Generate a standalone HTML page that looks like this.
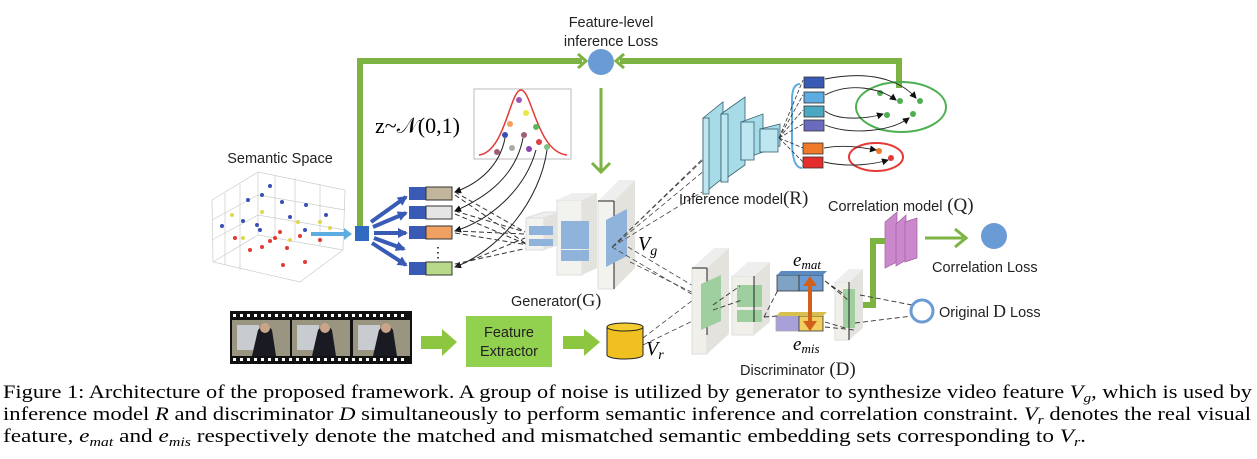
<!DOCTYPE html>
<html><head><meta charset="utf-8"><style>
body{margin:0;background:#fff;width:1257px;height:459px;overflow:hidden}
svg{display:block}
.s{font-family:"Liberation Sans","DejaVu Sans",sans-serif;fill:#222}
.r{font-family:"Liberation Serif",serif;fill:#000}
</style></head><body>
<svg width="1257" height="459" viewBox="0 0 1257 459" xmlns="http://www.w3.org/2000/svg">
<defs>
<marker id="ba" markerWidth="10" markerHeight="10" refX="8" refY="5" orient="auto" markerUnits="userSpaceOnUse"><path d="M0,0 L10,5 L0,10z" fill="#3a5bb5"/></marker>
<marker id="ka" markerWidth="7" markerHeight="7" refX="6" refY="3.5" orient="auto" markerUnits="userSpaceOnUse"><path d="M0,0 L7,3.5 L0,7z" fill="#111"/></marker>
</defs>

<polyline points="360,228 360,61 582,61" fill="none" stroke="#7cb342" stroke-width="6"/>
<path d="M578,54 L586,61 L578,68" fill="none" stroke="#7cb342" stroke-width="3"/>
<polyline points="899,88 899,61 620,61" fill="none" stroke="#7cb342" stroke-width="6"/>
<path d="M624,54 L616,61 L624,68" fill="none" stroke="#7cb342" stroke-width="3"/>
<circle cx="601" cy="62" r="13" fill="#6a9bd4"/>
<text class="s" x="611" y="27" font-size="14.5" text-anchor="middle">Feature-level</text>
<text class="s" x="611" y="46" font-size="14.5" text-anchor="middle">inference Loss</text>
<line x1="601" y1="88" x2="601" y2="170" stroke="#7cb342" stroke-width="3"/>
<path d="M592,163 L601,172 L610,163" fill="none" stroke="#7cb342" stroke-width="3"/>

<text class="r" x="375" y="133" font-size="22">z~𝒩(0,1)</text>
<rect x="474" y="89" width="97" height="70" fill="#fff" stroke="#bbb" stroke-width="1"/>
<path d="M479,155 C505,152 510,90 521,90 C532,90 537,152 567,155" fill="none" stroke="#e53935" stroke-width="1.5"/>
<circle cx="519" cy="100" r="3" fill="#9b59b6"/><circle cx="526" cy="113" r="3" fill="#e8e84a"/>
<circle cx="510" cy="124" r="3" fill="#f0a060"/><circle cx="536" cy="127" r="3" fill="#5cb85c"/>
<circle cx="505" cy="135" r="3" fill="#3a4fb5"/><circle cx="524" cy="135" r="3" fill="#a06070"/>
<circle cx="539" cy="142" r="3" fill="#e04040"/><circle cx="512" cy="148" r="3" fill="#aaa"/>
<circle cx="529" cy="149" r="3" fill="#8e44ad"/><circle cx="547" cy="147" r="3" fill="#7fbf7f"/>
<circle cx="497" cy="152" r="3" fill="#a06070"/>

<text class="s" x="280" y="163" font-size="14.5" text-anchor="middle">Semantic Space</text>
<g stroke="#ccc" stroke-width="0.7" fill="none">
<path d="M212,200 L258,172 L345,190 L343,250 L300,282 L213,262z"/>
<path d="M258,172 L258,235 L343,250 M258,235 L213,262"/>
<path d="M225,193 L225,265 M240,184 L240,270 M275,175 L275,238 M295,178 L295,240 M320,184 L320,245"/>
<path d="M212,220 L258,195 L345,210 M212,240 L258,215 L345,230"/>
</g>
<g fill="#3a4fb5"><circle cx="270" cy="186" r="2"/><circle cx="262" cy="195" r="2"/><circle cx="282" cy="202" r="2"/><circle cx="306" cy="205" r="2"/><circle cx="243" cy="221" r="2"/><circle cx="257" cy="225" r="2"/><circle cx="222" cy="226" r="2"/><circle cx="290" cy="217" r="2"/><circle cx="326" cy="215" r="2"/><circle cx="248" cy="200" r="2"/><circle cx="260" cy="230" r="2"/><circle cx="305" cy="230" r="2"/></g>
<g fill="#e53935"><circle cx="250" cy="250" r="2"/><circle cx="270" cy="241" r="2"/><circle cx="287" cy="248" r="2"/><circle cx="275" cy="238" r="2"/><circle cx="283" cy="265" r="2"/><circle cx="305" cy="262" r="2"/><circle cx="320" cy="240" r="2"/><circle cx="262" cy="247" r="2"/><circle cx="300" cy="236" r="2"/><circle cx="235" cy="238" r="2"/><circle cx="280" cy="232" r="2"/></g>
<g fill="#e0d84a"><circle cx="232" cy="215" r="2"/><circle cx="262" cy="212" r="2"/><circle cx="298" cy="222" r="2"/><circle cx="320" cy="222" r="2"/><circle cx="243" cy="238" r="2"/><circle cx="330" cy="228" r="2"/><circle cx="290" cy="240" r="2"/></g>
<line x1="311" y1="234" x2="346" y2="234" stroke="#5dade2" stroke-width="4"/>
<path d="M344,228 L352,234 L344,240z" fill="#5dade2"/>
<rect x="355" y="226" width="14" height="15" fill="#2f6bc0"/>

<g stroke="#3a5bb5" stroke-width="4" marker-end="url(#ba)">
<line x1="371" y1="222" x2="406" y2="197"/>
<line x1="373" y1="227" x2="406" y2="213"/>
<line x1="374" y1="233" x2="406" y2="233"/>
<line x1="374" y1="238" x2="404" y2="249"/>
<line x1="372" y1="243" x2="406" y2="265"/>
</g>
<g>
<rect x="409" y="187" width="17" height="13" fill="#3a5bb5"/><rect x="426" y="187" width="26" height="13" fill="#c1b59b" stroke="#333" stroke-width="1"/>
<rect x="409" y="206" width="17" height="13" fill="#3a5bb5"/><rect x="426" y="206" width="26" height="13" fill="#e5e5e5" stroke="#333" stroke-width="1"/>
<rect x="409" y="226" width="17" height="13" fill="#3a5bb5"/><rect x="426" y="226" width="26" height="13" fill="#f0a060" stroke="#333" stroke-width="1"/>
<rect x="409" y="262" width="17" height="13" fill="#3a5bb5"/><rect x="426" y="262" width="26" height="13" fill="#b9d98a" stroke="#333" stroke-width="1"/>
<text x="431" y="257" font-size="14" font-family="Liberation Sans,sans-serif">⋮</text>
</g>
<g fill="none" stroke="#222" stroke-width="1" marker-end="url(#ka)">
<path d="M505,138 C500,165 480,183 455,192"/>
<path d="M523,138 C515,180 480,200 455,211"/>
<path d="M536,150 C525,190 490,220 455,231"/>
<path d="M547,150 C540,200 500,250 455,267"/>
</g>
<g fill="none" stroke="#333" stroke-width="1" stroke-dasharray="5,3">
<path d="M455,192 L525,232 M455,211 L525,232 M455,231 L525,234 M455,267 L525,238 M455,195 L528,245 M455,214 L528,245 M455,233 L528,245 M455,264 L528,248"/>
</g>

<g>
<path d="M526,218 L544,212 L562,212 L544,218z" fill="#eee" stroke="#ddd"/><rect x="526" y="218" width="18" height="32" fill="#f2f2ee" stroke="#ddd"/><path d="M544,218 L562,212 L562,244 L544,250z" fill="#e4e2dc"/>
<rect x="529" y="226" width="24" height="9" fill="#8fb3da"/><rect x="529" y="239" width="24" height="7" fill="#8fb3da"/>
<rect x="557" y="200" width="25" height="75" fill="#f2f2ee" stroke="#ddd"/><path d="M582,200 L597,193 L597,268 L582,275z" fill="#e4e2dc"/><path d="M557,200 L572,193 L597,193 L582,200z" fill="#eee"/>
<rect x="561" y="221" width="28" height="28" fill="#8fb3da"/><rect x="561" y="250" width="28" height="11" fill="#8fb3da"/>
<rect x="598" y="201" width="16" height="88" fill="#f2f2ee" stroke="#ddd"/><path d="M614,201 L635,180 L635,268 L614,289z" fill="#e4e2dc"/><path d="M598,201 L619,180 L635,180 L614,201z" fill="#eee"/>
<line x1="598" y1="201" x2="614" y2="201" stroke="#222"/><line x1="614" y1="201" x2="614" y2="289" stroke="#222"/>
<path d="M606,220 L627,209 L627,256 L606,267z" fill="#8fb3da"/>
</g>
<text class="r" x="638" y="250" font-size="20" font-style="italic">V<tspan font-size="14" dy="5">g</tspan></text>
<text class="s" x="511" y="306" font-size="14.5">Generator<tspan font-family="Liberation Serif,serif" font-size="18">(G)</tspan></text>
<g stroke="#444" stroke-width="0.8" stroke-dasharray="5,3" fill="none">
<path d="M612,247 L703,160 M612,247 L705,170 M612,247 L722,140 M612,247 L702,192"/>
<path d="M612,247 L695,296 M630,262 L712,302 M628,247 L700,290"/>
<path d="M643,338 L693,300 M643,345 L705,315"/>
</g>

<g>
<path d="M703,118 L723,102 L723,178 L703,194z" fill="#a8dbe8" stroke="#33606e" stroke-width="0.8"/><rect x="703" y="118" width="6" height="76" fill="#bde6f0" stroke="#33606e" stroke-width="0.8"/>
<path d="M721,114 L745,97 L745,165 L721,182z" fill="#a8dbe8" stroke="#33606e" stroke-width="0.8"/><rect x="721" y="114" width="7" height="68" fill="#bde6f0" stroke="#33606e" stroke-width="0.8"/>
<path d="M741,122 L763,114 L763,152 L741,160z" fill="#a8dbe8" stroke="#33606e" stroke-width="0.8"/><rect x="741" y="122" width="13" height="38" fill="#bde6f0" stroke="#33606e" stroke-width="0.8"/>
<path d="M760,129 L780,124 L780,146 L760,152z" fill="#a8dbe8" stroke="#33606e" stroke-width="0.8"/><rect x="760" y="129" width="18" height="23" fill="#bde6f0" stroke="#33606e" stroke-width="0.8"/>
</g>
<path d="M800,84 Q792,84 792,100 L792,140 Q792,168 802,168" fill="none" stroke="#5dade2" stroke-width="2"/>
<g stroke="#333" stroke-width="0.8" stroke-dasharray="4,2" fill="none">
<path d="M779,138 L803,80 M779,138 L803,95 M779,138 L803,110 M779,138 L803,124 M779,138 L803,148 M779,138 L803,162"/>
</g>
<g stroke="#333" stroke-width="0.8">
<rect x="804" y="77" width="20" height="11" fill="#3a5bb5"/>
<rect x="804" y="92" width="20" height="11" fill="#5dade2"/>
<rect x="804" y="106" width="20" height="11" fill="#4aa8c0"/>
<rect x="804" y="120" width="20" height="11" fill="#6b6bbd"/>
<rect x="803" y="143" width="20" height="11" fill="#ef7a2a"/>
<rect x="803" y="157" width="20" height="11" fill="#e52d2d"/>
</g>
<ellipse cx="901" cy="107" rx="45" ry="25" fill="none" stroke="#4caf50" stroke-width="2"/>
<ellipse cx="876" cy="157" rx="27" ry="14" fill="none" stroke="#e53935" stroke-width="2"/>
<g fill="#4caf50"><circle cx="880" cy="93" r="3"/><circle cx="900" cy="101" r="3"/><circle cx="920" cy="101" r="3"/><circle cx="887" cy="115" r="3"/><circle cx="913" cy="114" r="3"/></g>
<circle cx="879" cy="151" r="3" fill="#ef7a2a"/><circle cx="891" cy="158" r="3" fill="#e53935"/>
<g fill="none" stroke="#222" stroke-width="0.9" marker-end="url(#ka)">
<path d="M825,79 C870,70 900,80 916,98"/>
<path d="M825,95 C850,82 880,88 896,100"/>
<path d="M825,111 C840,122 870,118 883,114"/>
<path d="M825,125 C850,135 890,132 909,118"/>
<path d="M824,148 C845,144 865,148 876,150"/>
<path d="M824,162 C850,168 875,164 888,160"/>
</g>
<text class="s" x="679" y="204" font-size="14.5">Inference model<tspan font-family="Liberation Serif,serif" font-size="19">(R)</tspan></text>
<text class="s" x="828" y="211" font-size="14.5">Correlation model<tspan font-family="Liberation Serif,serif" font-size="19"> (Q)</tspan></text>

<g fill="#cc88cc" stroke="#a060a0" stroke-width="0.7">
<path d="M885,222 L897,212 L897,262 L885,268z"/>
<path d="M896,224 L906,215 L906,260 L896,266z"/>
<path d="M905,222 L917,218 L917,258 L905,262z"/>
</g>
<line x1="925" y1="238" x2="963" y2="238" stroke="#7cb342" stroke-width="3"/>
<path d="M955,229 L966,238 L955,247" fill="none" stroke="#7cb342" stroke-width="3"/>
<circle cx="994" cy="236" r="13" fill="#6a9bd4"/>
<text class="s" x="932" y="272" font-size="14.5">Correlation Loss</text>
<polyline points="855,305 873,305 873,241 885,241" fill="none" stroke="#7cb342" stroke-width="6"/>

<g>
<rect x="692" y="268" width="15" height="86" fill="#f0efea" stroke="#ddd"/><path d="M707,268 L729,248 L729,334 L707,354z" fill="#e4e2dc"/><path d="M692,268 L714,248 L729,248 L707,268z" fill="#eee"/>
<line x1="692" y1="268" x2="707" y2="268" stroke="#222"/><line x1="707" y1="268" x2="707" y2="335" stroke="#222"/>
<path d="M701,284 L721,275 L721,321 L701,330z" fill="#9fcf9f"/>
<rect x="732" y="276" width="22" height="59" fill="#f0efea" stroke="#ddd"/><path d="M754,276 L770,262 L770,322 L754,335z" fill="#e4e2dc"/><path d="M732,276 L748,262 L770,262 L754,276z" fill="#eee"/>
<rect x="737" y="285" width="25" height="22" fill="#9fcf9f"/><rect x="737" y="310" width="25" height="12" fill="#9fcf9f"/>
<line x1="754" y1="276" x2="754" y2="322" stroke="#222"/>
<rect x="777" y="275" width="22" height="16" fill="#7fa3c4" stroke="#333" stroke-width="0.8"/><rect x="799" y="275" width="24" height="16" fill="#6a9bd4" stroke="#333" stroke-width="0.8"/><path d="M777,275 L781,271 L827,271 L823,275z" fill="#5a8abf"/>
<rect x="776" y="316" width="23" height="15" fill="#a8a0d8" stroke="#aaa" stroke-width="0.8"/><rect x="799" y="316" width="24" height="15" fill="#f2d060" stroke="#333" stroke-width="0.8"/><path d="M776,316 L780,312 L827,312 L823,316z" fill="#d8c050"/>
<line x1="810" y1="283" x2="810" y2="324" stroke="#d2601a" stroke-width="4"/>
<path d="M803,286 L810,276 L817,286z M803,321 L810,331 L817,321z" fill="#d2601a"/>
<rect x="835" y="282" width="14" height="58" fill="#f0efea" stroke="#ddd"/><path d="M849,282 L863,269 L863,328 L849,340z" fill="#e4e2dc"/><path d="M835,282 L849,269 L863,269 L849,282z" fill="#eee"/>
<rect x="843" y="289" width="12" height="30" fill="#9fcf9f"/><rect x="843" y="318" width="12" height="10" fill="#9fcf9f"/>
<line x1="849" y1="282" x2="849" y2="340" stroke="#222"/>
</g>
<g stroke="#333" stroke-width="0.9" stroke-dasharray="5,3" fill="none">
<path d="M713,305 L740,286 M713,310 L742,300 M764,317 L778,290 M764,317 L777,316 M825,281 L845,295 M825,281 L848,300 M825,322 L845,328 M825,327 L855,330"/>
<path d="M860,295 L912,305 M855,323 L912,316"/>
</g>
<circle cx="922" cy="311" r="11" fill="none" stroke="#6a9bd4" stroke-width="3"/>
<text class="s" x="939" y="317" font-size="14.5">Original <tspan font-family="Liberation Serif,serif" font-size="18">D</tspan> Loss</text>
<text class="r" x="793" y="266" font-size="19" font-style="italic">e<tspan font-size="13" dy="3">mat</tspan></text>
<text class="r" x="793" y="350" font-size="19" font-style="italic">e<tspan font-size="13" dy="3">mis</tspan></text>
<text class="s" x="740" y="375" font-size="14.5">Discriminator<tspan font-family="Liberation Serif,serif" font-size="19"> (D)</tspan></text>

<rect x="230" y="311" width="182" height="53" fill="#111"/>
<g fill="#fff">
<rect x="233" y="314" width="3" height="3"/><rect x="240" y="314" width="3" height="3"/><rect x="247" y="314" width="3" height="3"/><rect x="254" y="314" width="3" height="3"/><rect x="261" y="314" width="3" height="3"/><rect x="268" y="314" width="3" height="3"/><rect x="275" y="314" width="3" height="3"/><rect x="282" y="314" width="3" height="3"/><rect x="289" y="314" width="3" height="3"/><rect x="296" y="314" width="3" height="3"/><rect x="303" y="314" width="3" height="3"/><rect x="310" y="314" width="3" height="3"/><rect x="317" y="314" width="3" height="3"/><rect x="324" y="314" width="3" height="3"/><rect x="331" y="314" width="3" height="3"/><rect x="338" y="314" width="3" height="3"/><rect x="345" y="314" width="3" height="3"/><rect x="352" y="314" width="3" height="3"/><rect x="359" y="314" width="3" height="3"/><rect x="366" y="314" width="3" height="3"/><rect x="373" y="314" width="3" height="3"/><rect x="380" y="314" width="3" height="3"/><rect x="387" y="314" width="3" height="3"/><rect x="394" y="314" width="3" height="3"/><rect x="401" y="314" width="3" height="3"/>
<rect x="233" y="358" width="3" height="3"/><rect x="240" y="358" width="3" height="3"/><rect x="247" y="358" width="3" height="3"/><rect x="254" y="358" width="3" height="3"/><rect x="261" y="358" width="3" height="3"/><rect x="268" y="358" width="3" height="3"/><rect x="275" y="358" width="3" height="3"/><rect x="282" y="358" width="3" height="3"/><rect x="289" y="358" width="3" height="3"/><rect x="296" y="358" width="3" height="3"/><rect x="303" y="358" width="3" height="3"/><rect x="310" y="358" width="3" height="3"/><rect x="317" y="358" width="3" height="3"/><rect x="324" y="358" width="3" height="3"/><rect x="331" y="358" width="3" height="3"/><rect x="338" y="358" width="3" height="3"/><rect x="345" y="358" width="3" height="3"/><rect x="352" y="358" width="3" height="3"/><rect x="359" y="358" width="3" height="3"/><rect x="366" y="358" width="3" height="3"/><rect x="373" y="358" width="3" height="3"/><rect x="380" y="358" width="3" height="3"/><rect x="387" y="358" width="3" height="3"/><rect x="394" y="358" width="3" height="3"/><rect x="401" y="358" width="3" height="3"/>
</g>
<g>
<rect x="232" y="320" width="58" height="36" fill="#9a9580"/><rect x="237" y="325" width="22" height="25" fill="#c8ccd0"/><path d="M258,330 Q266,322 272,330 L276,356 L252,356z" fill="#1a1a22"/><circle cx="265" cy="328" r="5" fill="#caa488"/>
<rect x="292" y="320" width="58" height="36" fill="#9a9580"/><rect x="297" y="325" width="22" height="25" fill="#c8ccd0"/><path d="M318,330 Q326,322 332,330 L336,356 L312,356z" fill="#1a1a22"/><circle cx="325" cy="328" r="5" fill="#caa488"/>
<rect x="353" y="320" width="57" height="36" fill="#9a9580"/><rect x="358" y="325" width="22" height="25" fill="#c8ccd0"/><path d="M379,330 Q387,322 393,330 L397,356 L373,356z" fill="#1a1a22"/><circle cx="386" cy="328" r="5" fill="#caa488"/>
</g>
<path d="M421,336 L442,336 L442,329 L457,342 L442,356 L442,349 L421,349z" fill="#8dc63f"/>
<rect x="466" y="316" width="86" height="51" fill="#92d050"/>
<text class="s" x="509" y="337" font-size="14.5" text-anchor="middle">Feature</text>
<text class="s" x="509" y="356" font-size="14.5" text-anchor="middle">Extractor</text>
<path d="M563,336 L584,336 L584,329 L600,342 L584,356 L584,349 L563,349z" fill="#8dc63f"/>
<path d="M607,327 L607,355 A18,4 0 0 0 643,355 L643,327z" fill="#f0c020" stroke="#222" stroke-width="1"/>
<ellipse cx="625" cy="327" rx="18" ry="4" fill="#f5cc30" stroke="#222" stroke-width="1"/>
<text class="r" x="646" y="355" font-size="20" font-style="italic">V<tspan font-size="14" dy="4">r</tspan></text>

<text class="r" x="3" y="398" font-size="19" textLength="1249" lengthAdjust="spacingAndGlyphs">Figure 1: Architecture of the proposed framework. A group of noise is utilized by generator to synthesize video feature <tspan font-style="italic">V</tspan><tspan font-style="italic" font-size="13" dy="4">g</tspan><tspan dy="-4">, which is used by</tspan></text>
<text class="r" x="3" y="420" font-size="19" textLength="1248" lengthAdjust="spacingAndGlyphs">inference model <tspan font-style="italic">R</tspan> and discriminator <tspan font-style="italic">D</tspan> simultaneously to perform semantic inference and correlation constraint. <tspan font-style="italic">V</tspan><tspan font-style="italic" font-size="13" dy="4">r</tspan><tspan dy="-4"> denotes the real visual</tspan></text>
<text class="r" x="3" y="442" font-size="19" textLength="1083" lengthAdjust="spacingAndGlyphs">feature, <tspan font-style="italic">e</tspan><tspan font-style="italic" font-size="13" dy="4">mat</tspan><tspan dy="-4"> and </tspan><tspan font-style="italic">e</tspan><tspan font-style="italic" font-size="13" dy="4">mis</tspan><tspan dy="-4"> respectively denote the matched and mismatched semantic embedding sets corresponding to </tspan><tspan font-style="italic">V</tspan><tspan font-style="italic" font-size="13" dy="4">r</tspan><tspan dy="-4">.</tspan></text>
</svg>
</body></html>
